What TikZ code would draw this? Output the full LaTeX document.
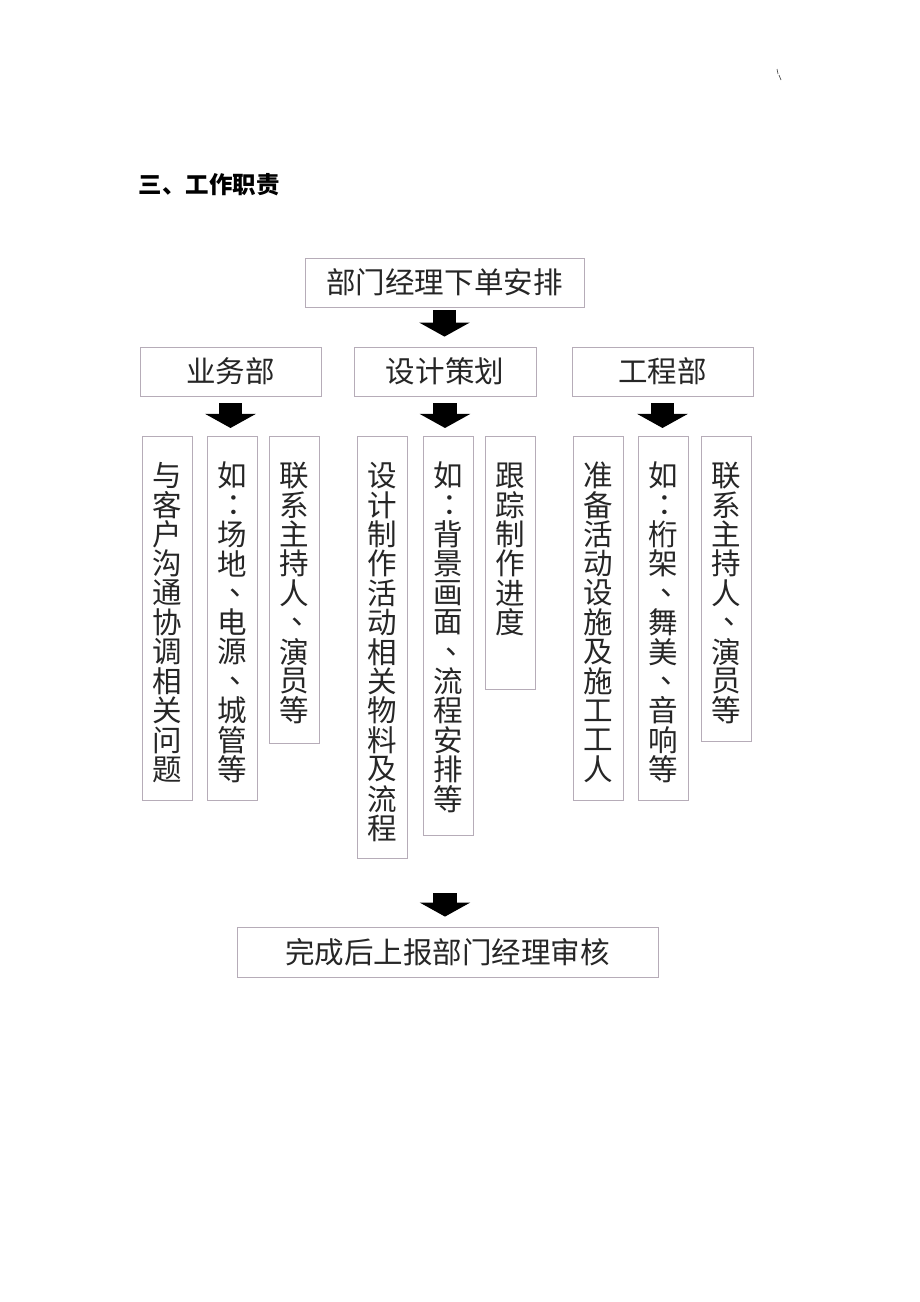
\documentclass[tikz,border=0pt]{standalone}
\usepackage{fontspec}
\newfontfamily\cjk{Noto Sans CJK SC}
\usetikzlibrary{arrows.meta}
\definecolor{boxline}{RGB}{182,172,184}
\tikzstyle{hbox} = [rectangle,
minimum height=1.225cm,
inner sep=0pt,
draw=boxline, line width=0.6pt,
text=black!85,
font=\fontsize{21}{24}\selectfont\cjk]
\tikzstyle{vbox} = [rectangle, anchor=north,
inner sep=0pt,
draw=boxline, line width=0.6pt,
text=black!85,
font=\fontsize{21}{24}\selectfont\cjk]
\tikzstyle{bigarrow} = [line width=16.4pt, -{Triangle[width=35.6pt,length=10pt]}]

% one pixel of the page, and the vertical text of the columns
\newdimen\pxd \pxd=0.025cm
\newcommand{\vtext}[2]{\vbox to #1\pxd{\offinterlineskip
  \vskip 24.3\pxd
  \foreach \zi in {#2}{\vbox to 29.4\pxd{\vss\hbox to 50\pxd{\hss\zi\hss}\vss}}%
  \vss}}
\newcommand{\cdun}{\kern.4em 、\kern-.4em}
\newcommand{\cmao}{\kern.3em ：\kern-.3em}

\begin{document}
\begin{tikzpicture}[x=0.025cm, y=-0.025cm]
  \useasboundingbox (0,0) rectangle (920,1302);
  \draw [line width=0.5pt, black!70] (777,69) -- (778,74) (779,75) -- (781,80);

  \node (title) [anchor=west, font=\fontsize{16.7}{20}\selectfont\cjk\bfseries] at (134,185) {三、工作职责};

  \node (bmjl) [hbox, minimum width=6.975cm] at (444.5,282.5) {部门经理下单安排};
  \node (ywb) [hbox, minimum width=4.525cm] at (230.5,371.5) {业务部};
  \node (sjch) [hbox, minimum width=4.55cm] at (445,371.5) {设计策划};
  \node (gcb) [hbox, minimum width=4.525cm] at (662.5,371.5) {工程部};

  \node (yw1) [vbox] at (167,436) {\vtext{364}{与,客,户,沟,通,协,调,相,关,问,题}};
  \node (yw2) [vbox] at (232,436) {\vtext{364}{如,\cmao,场,地,\cdun,电,源,\cdun,城,管,等}};
  \node (yw3) [vbox] at (294.5,436) {\vtext{307}{联,系,主,持,人,\cdun,演,员,等}};
  \node (sj1) [vbox] at (382.5,436) {\vtext{422}{设,计,制,作,活,动,相,关,物,料,及,流,程}};
  \node (sj2) [vbox] at (448,436) {\vtext{399}{如,\cmao,背,景,画,面,\cdun,流,程,安,排,等}};
  \node (sj3) [vbox] at (510.5,436) {\vtext{253}{跟,踪,制,作,进,度}};
  \node (gc1) [vbox] at (598,436) {\vtext{364}{准,备,活,动,设,施,及,施,工,工,人}};
  \node (gc2) [vbox] at (663.5,436) {\vtext{364}{如,\cmao,桁,架,\cdun,舞,美,\cdun,音,响,等}};
  \node (gc3) [vbox] at (726,436) {\vtext{305}{联,系,主,持,人,\cdun,演,员,等}};

  \node (done) [hbox, minimum width=10.525cm, minimum height=1.25cm] at (447.5,952) {完成后上报部门经理审核};
  \coordinate (wcjt) at (445,893);

  \draw [bigarrow, shorten <=2.1pt, shorten >=7.1pt] (bmjl.south) -- (bmjl.south |- sjch.north);
  \draw [bigarrow, shorten <=5pt, shorten >=5.7pt] (ywb.south) -- (ywb.south |- yw2.north);
  \draw [bigarrow, shorten <=5pt, shorten >=5.7pt] (sjch.south) -- (sjch.south |- sj2.north);
  \draw [bigarrow, shorten <=5pt, shorten >=5.7pt] (gcb.south) -- (gcb.south |- gc2.north);
  \draw [bigarrow, shorten >=7.1pt] (wcjt) -- (wcjt |- done.north);

\end{tikzpicture}
\end{document}
